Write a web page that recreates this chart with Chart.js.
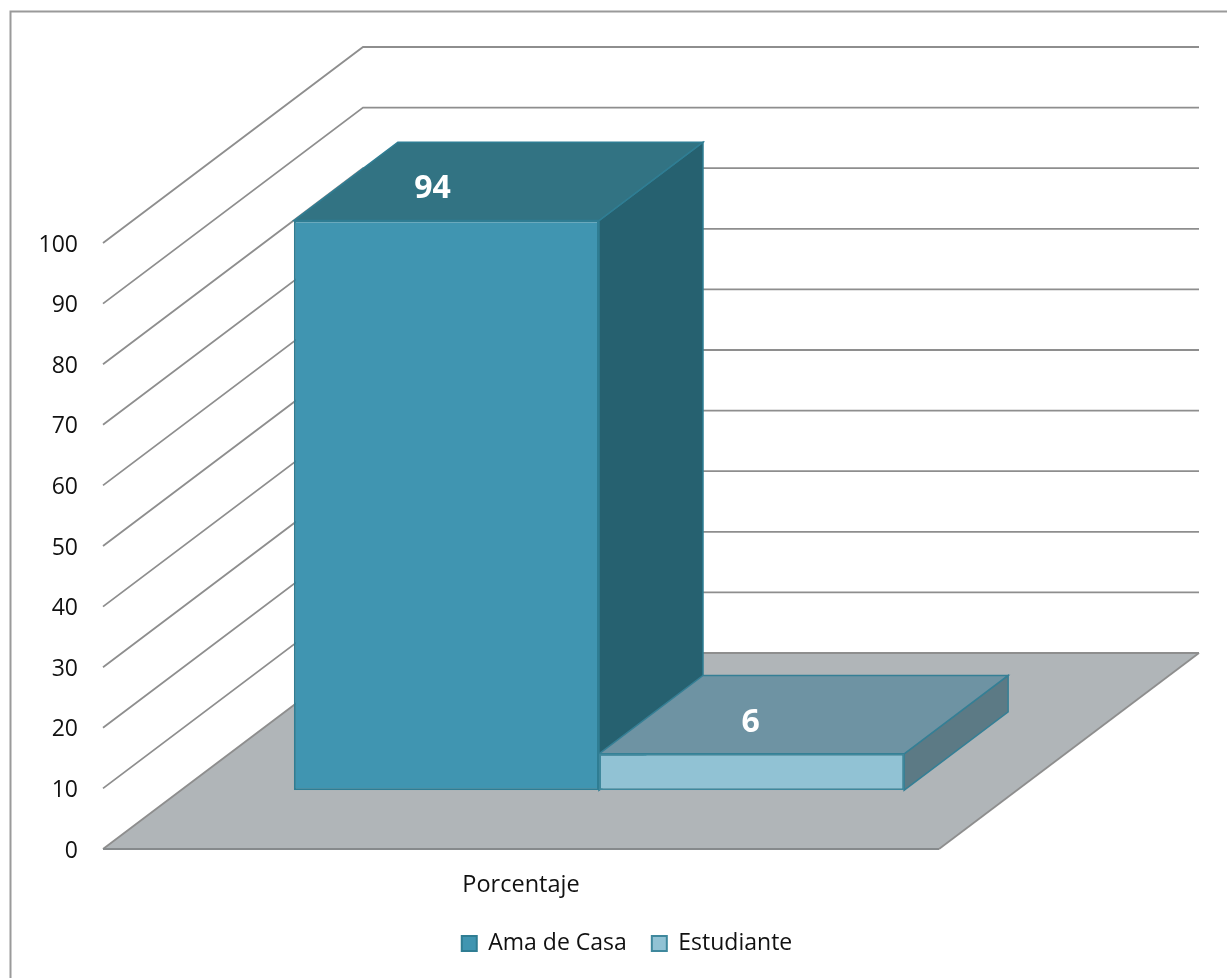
<!DOCTYPE html>
<html lang="es">
<head>
<meta charset="utf-8">
<title>Porcentaje</title>
<style>html,body{margin:0;padding:0;background:#fff}canvas{display:block}</style>
<script src="https://cdn.jsdelivr.net/npm/chart.js@4"></script>
</head>
<body>
<canvas id="c" width="1227" height="978"></canvas>
<script>
const categories = ['Porcentaje'];
const amaDeCasa = [94];
const estudiante = [6];
const seriesNames = ['Ama de Casa', 'Estudiante'];
const valueMin = 0, valueMax = 100, valueStep = 10;

const FONT = '"Open Sans", sans-serif';
const DEPTH = {x: 260, y: -196};
const BAR_START = 0.3, BAR_DEPTH = 0.4;
const faces = [
  {top: '#327383', side: '#266170', edge: '#2f7d93', labelDx: -66},
  {top: '#6e93a3', side: '#5c7a85', edge: '#357f95', labelDx: -53}
];

function poly(ctx, pts, fill, stroke, lw) {
  ctx.beginPath();
  pts.forEach((p, i) => i ? ctx.lineTo(p[0], p[1]) : ctx.moveTo(p[0], p[1]));
  ctx.closePath();
  if (fill) { ctx.fillStyle = fill; ctx.fill(); }
  if (stroke) { ctx.strokeStyle = stroke; ctx.lineWidth = lw; ctx.stroke(); }
}

const scene3d = {
  id: 'scene3d',
  afterLayout(chart) {
    const lg = chart.legend;
    lg.left += 157.5; lg.right += 157.5;
    lg.top = 907;
  },
  beforeDraw(chart) {
    const ctx = chart.ctx;
    ctx.save();
    ctx.strokeStyle = '#9a9a9a'; ctx.lineWidth = 2;
    ctx.beginPath(); ctx.moveTo(10.5, 978); ctx.lineTo(10.5, 11.5); ctx.lineTo(1227, 11.5); ctx.stroke();
    ctx.restore();
  },
  beforeDatasetsDraw(chart) {
    const ctx = chart.ctx, yS = chart.scales.y, a = chart.chartArea;
    const l = a.left, r = a.right, y0 = yS.getPixelForValue(valueMin);
    ctx.save();
    // floor
    poly(ctx, [[l, y0], [r, y0], [r + DEPTH.x, y0 + DEPTH.y], [l + DEPTH.x, y0 + DEPTH.y]], '#b0b5b8');
    // gridlines across side and back walls
    ctx.strokeStyle = '#8e8e8e'; ctx.lineWidth = 1.8; ctx.lineJoin = 'miter';
    yS.ticks.forEach(t => {
      const y = yS.getPixelForValue(t.value);
      ctx.beginPath();
      ctx.moveTo(l, y); ctx.lineTo(l + DEPTH.x, y + DEPTH.y); ctx.lineTo(r + DEPTH.x, y + DEPTH.y);
      ctx.stroke();
    });
    // floor front and right edges
    ctx.beginPath(); ctx.moveTo(l, y0); ctx.lineTo(r, y0); ctx.lineWidth = 2; ctx.strokeStyle = '#868a8c'; ctx.stroke();
    ctx.beginPath(); ctx.moveTo(r, y0); ctx.lineTo(r + DEPTH.x, y0 + DEPTH.y); ctx.lineWidth = 1.8; ctx.strokeStyle = '#8e8e8e'; ctx.stroke();
    // side and top faces of each bar, from the library's bar elements
    const ox = DEPTH.x * BAR_START, oy = DEPTH.y * BAR_START;
    const dx = DEPTH.x * BAR_DEPTH, dy = DEPTH.y * BAR_DEPTH;
    chart.data.datasets.forEach((ds, i) => {
      const b = chart.getDatasetMeta(i).data[0];
      const L = b.x - b.width / 2 + ox, R = b.x + b.width / 2 + ox, T = b.y + oy, B = b.base + oy;
      const f = faces[i];
      poly(ctx, [[R, T], [R + dx, T + dy], [R + dx, B + dy], [R, B]], f.side, f.edge, 1.5);
      poly(ctx, [[L, T], [L + dx, T + dy], [R + dx, T + dy], [R, T]], f.top, f.edge, 1.5);
    });
    ctx.restore();
    // front faces are drawn by the library, moved onto the bars' floor line
    ctx.save();
    ctx.translate(ox, oy);
  },
  afterDatasetsDraw(chart) {
    const ctx = chart.ctx;
    ctx.restore();
    const ox = DEPTH.x * BAR_START, oy = DEPTH.y * BAR_START;
    const dx = DEPTH.x * BAR_DEPTH, dy = DEPTH.y * BAR_DEPTH;
    ctx.save();
    ctx.fillStyle = '#ffffff';
    ctx.font = '700 32px ' + FONT;
    ctx.textAlign = 'center'; ctx.textBaseline = 'middle';
    chart.data.datasets.forEach((ds, i) => {
      const b = chart.getDatasetMeta(i).data[0];
      ctx.fillText(String(ds.data[0]), b.x + ox + dx / 2 + faces[i].labelDx, b.y + oy + dy / 2 + 8);
    });
    ctx.restore();
  }
};

new Chart(document.getElementById('c'), {
  type: 'bar',
  data: {
    labels: categories,
    datasets: [
      {label: seriesNames[0], data: amaDeCasa, backgroundColor: '#4095b1', borderColor: '#2f7d93', borderWidth: 2, borderSkipped: false},
      {label: seriesNames[1], data: estudiante, backgroundColor: '#91c2d4', borderColor: '#3f889d', borderWidth: 2, borderSkipped: false}
    ]
  },
  options: {
    responsive: false,
    animation: false,
    layout: {padding: {left: 0, right: 288, top: 243, bottom: 19}},
    datasets: {bar: {categoryPercentage: 0.73, barPercentage: 1}},
    scales: {
      x: {
        grid: {display: false, drawTicks: false}, border: {display: false},
        ticks: {color: '#111', font: {family: FONT, size: 23.5}, padding: 22, maxRotation: 0},
        afterFit(s) { s.height = 52; }
      },
      y: {
        min: valueMin, max: valueMax,
        grid: {display: false, drawTicks: false}, border: {display: false},
        ticks: {stepSize: valueStep, color: '#111', font: {family: FONT, size: 23}, padding: 25, labelOffset: 2},
        afterFit(s) { s.width = 103; }
      }
    },
    plugins: {
      tooltip: {enabled: false},
      legend: {
        position: 'bottom',
        labels: {color: '#111', font: {family: FONT, size: 23}, boxWidth: 15, boxHeight: 15, padding: 25}
      }
    }
  },
  plugins: [scene3d]
});
</script>
</body>
</html>
